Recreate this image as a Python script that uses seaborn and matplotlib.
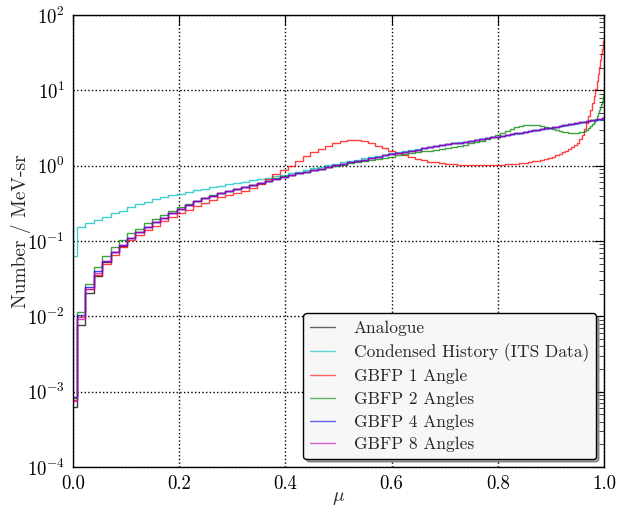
import numpy as np
import pandas as pd
import matplotlib
matplotlib.use("Agg")
import matplotlib.pyplot as plt
import seaborn as sns

# bin positions (mu = cosine of scattering angle)
mu = [0.0000, 0.0157, 0.0314, 0.0471, 0.0628, 0.0785, 0.0941, 0.1097, 0.1253, 0.1409,
      0.1564, 0.1719, 0.1874, 0.2028, 0.2181, 0.2334, 0.2487, 0.2639, 0.2790, 0.2940,
      0.3090, 0.3239, 0.3387, 0.3535, 0.3681, 0.3827, 0.3971, 0.4115, 0.4258, 0.4399,
      0.4540, 0.4679, 0.4818, 0.4955, 0.5090, 0.5225, 0.5358, 0.5490, 0.5621, 0.5750,
      0.5878, 0.6004, 0.6129, 0.6252, 0.6374, 0.6494, 0.6613, 0.6730, 0.6845, 0.6959,
      0.7071, 0.7181, 0.7290, 0.7396, 0.7501, 0.7604, 0.7705, 0.7804, 0.7902, 0.7997,
      0.8090, 0.8181, 0.8271, 0.8358, 0.8443, 0.8526, 0.8607, 0.8686, 0.8763, 0.8838,
      0.8910, 0.8980, 0.9048, 0.9114, 0.9178, 0.9239, 0.9298, 0.9354, 0.9409, 0.9461,
      0.9511, 0.9558, 0.9603, 0.9646, 0.9686, 0.9724, 0.9759, 0.9792, 0.9823, 0.9851,
      0.9877, 0.9900, 0.9921, 0.9940, 0.9956, 0.9969, 0.9980, 0.9989, 0.9995, 0.9999,
      1.0000]

# values, stored as log10(Number / MeV-sr)
analogue_log10 = [
    -3.20, -2.115, -1.695, -1.465, -1.28, -1.15, -1.06, -0.955, -0.88, -0.81,
    -0.75, -0.69, -0.63, -0.57, -0.52, -0.475, -0.435, -0.40, -0.368, -0.34,
    -0.313, -0.285, -0.257, -0.229, -0.201, -0.173, -0.146, -0.123, -0.101, -0.08,
    -0.059, -0.038, -0.017, 0.003, 0.023, 0.043, 0.062, 0.081, 0.10, 0.119,
    0.137, 0.155, 0.17, 0.185, 0.20, 0.214, 0.229, 0.243, 0.256, 0.27,
    0.283, 0.295, 0.307, 0.318, 0.33, 0.341, 0.352, 0.363, 0.374, 0.385,
    0.396, 0.407, 0.418, 0.428, 0.438, 0.448, 0.458, 0.467, 0.476, 0.485,
    0.494, 0.503, 0.511, 0.519, 0.527, 0.535, 0.542, 0.549, 0.556, 0.563,
    0.569, 0.575, 0.58, 0.586, 0.591, 0.595, 0.60, 0.604, 0.608, 0.611,
    0.615, 0.617, 0.62, 0.622, 0.624, 0.626, 0.627, 0.628, 0.629, 0.63,
    0.63]

condensed_log10 = [
    -1.20, -0.81, -0.757, -0.72, -0.677, -0.633, -0.597, -0.553, -0.51, -0.478,
    -0.447, -0.42, -0.395, -0.372, -0.35, -0.328, -0.307, -0.287, -0.267, -0.248,
    -0.23, -0.212, -0.194, -0.176, -0.159, -0.142, -0.12, -0.10, -0.078, -0.057,
    -0.036, -0.015, 0.005, 0.024, 0.042, 0.06, 0.078, 0.096, 0.113, 0.13,
    0.147, 0.163, 0.177, 0.191, 0.205, 0.219, 0.232, 0.246, 0.259, 0.272,
    0.285, 0.297, 0.309, 0.32, 0.331, 0.342, 0.352, 0.363, 0.374, 0.385,
    0.395, 0.405, 0.415, 0.425, 0.435, 0.445, 0.454, 0.463, 0.472, 0.481,
    0.49, 0.498, 0.506, 0.514, 0.522, 0.529, 0.536, 0.543, 0.55, 0.556,
    0.562, 0.568, 0.573, 0.578, 0.583, 0.587, 0.591, 0.595, 0.599, 0.602,
    0.605, 0.607, 0.609, 0.611, 0.613, 0.614, 0.615, 0.616, 0.617, 0.617,
    0.618]

gbfp1_log10 = [
    -3.11, -2.005, -1.64, -1.45, -1.30, -1.18, -1.08, -0.99, -0.92, -0.854,
    -0.80, -0.74, -0.685, -0.633, -0.585, -0.54, -0.495, -0.455, -0.42, -0.39,
    -0.36, -0.33, -0.295, -0.24, -0.175, -0.115, -0.057, 0.0, 0.066, 0.128,
    0.177, 0.221, 0.265, 0.302, 0.328, 0.342, 0.345, 0.33, 0.30, 0.265,
    0.228, 0.19, 0.162, 0.135, 0.11, 0.09, 0.072, 0.055, 0.042, 0.032,
    0.024, 0.018, 0.013, 0.01, 0.008, 0.007, 0.007, 0.008, 0.01, 0.012,
    0.015, 0.018, 0.022, 0.027, 0.033, 0.04, 0.048, 0.057, 0.067, 0.078,
    0.09, 0.104, 0.12, 0.137, 0.155, 0.175, 0.197, 0.222, 0.25, 0.27,
    0.30, 0.35, 0.41, 0.48, 0.56, 0.66, 0.74, 0.83, 0.92, 1.02,
    1.12, 1.22, 1.31, 1.40, 1.48, 1.55, 1.61, 1.66, 1.69, 1.71,
    1.72]

gbfp2_log10 = [
    -3.08, -1.947, -1.57, -1.35, -1.20, -1.075, -0.987, -0.90, -0.835, -0.765,
    -0.71, -0.655, -0.605, -0.555, -0.51, -0.468, -0.43, -0.395, -0.363, -0.335,
    -0.308, -0.282, -0.254, -0.226, -0.198, -0.17, -0.143, -0.12, -0.099, -0.079,
    -0.059, -0.039, -0.02, -0.002, 0.015, 0.031, 0.047, 0.062, 0.077, 0.092,
    0.107, 0.121, 0.135, 0.149, 0.162, 0.175, 0.188, 0.201, 0.214, 0.227,
    0.24, 0.253, 0.266, 0.28, 0.295, 0.312, 0.332, 0.355, 0.38, 0.407,
    0.433, 0.46, 0.485, 0.507, 0.525, 0.538, 0.545, 0.546, 0.54, 0.528,
    0.512, 0.496, 0.481, 0.468, 0.458, 0.45, 0.444, 0.44, 0.437, 0.436,
    0.437, 0.441, 0.449, 0.461, 0.477, 0.497, 0.521, 0.55, 0.583, 0.62,
    0.66, 0.70, 0.74, 0.78, 0.82, 0.86, 0.90, 0.94, 0.97, 1.00,
    1.02]

gbfp4_log10 = [
    -3.07, -1.98, -1.615, -1.40, -1.265, -1.14, -1.05, -0.955, -0.88, -0.81,
    -0.75, -0.69, -0.63, -0.57, -0.52, -0.475, -0.435, -0.40, -0.368, -0.34,
    -0.313, -0.285, -0.257, -0.229, -0.201, -0.173, -0.146, -0.123, -0.101, -0.08,
    -0.059, -0.038, -0.017, 0.003, 0.023, 0.043, 0.062, 0.081, 0.10, 0.119,
    0.137, 0.155, 0.17, 0.185, 0.20, 0.214, 0.229, 0.243, 0.256, 0.27,
    0.283, 0.295, 0.307, 0.318, 0.33, 0.341, 0.352, 0.363, 0.374, 0.385,
    0.396, 0.407, 0.418, 0.428, 0.438, 0.448, 0.458, 0.467, 0.476, 0.485,
    0.494, 0.503, 0.511, 0.519, 0.527, 0.535, 0.542, 0.549, 0.556, 0.563,
    0.569, 0.575, 0.58, 0.586, 0.591, 0.595, 0.60, 0.604, 0.608, 0.611,
    0.615, 0.617, 0.62, 0.622, 0.624, 0.626, 0.627, 0.628, 0.629, 0.63,
    0.63]

gbfp8_log10 = [
    -3.13, -2.03, -1.64, -1.43, -1.27, -1.145, -1.055, -0.955, -0.88, -0.81,
    -0.75, -0.69, -0.63, -0.57, -0.52, -0.475, -0.435, -0.40, -0.368, -0.34,
    -0.313, -0.285, -0.257, -0.229, -0.201, -0.173, -0.146, -0.123, -0.101, -0.08,
    -0.059, -0.038, -0.017, 0.003, 0.023, 0.043, 0.062, 0.081, 0.10, 0.119,
    0.137, 0.155, 0.17, 0.185, 0.20, 0.214, 0.229, 0.243, 0.256, 0.27,
    0.283, 0.295, 0.307, 0.318, 0.33, 0.341, 0.352, 0.363, 0.374, 0.385,
    0.396, 0.407, 0.418, 0.428, 0.438, 0.448, 0.458, 0.467, 0.476, 0.485,
    0.494, 0.503, 0.511, 0.519, 0.527, 0.535, 0.542, 0.549, 0.556, 0.563,
    0.569, 0.575, 0.58, 0.586, 0.591, 0.595, 0.60, 0.604, 0.608, 0.611,
    0.615, 0.617, 0.62, 0.622, 0.624, 0.626, 0.627, 0.628, 0.629, 0.63,
    0.63]

series_names = ["Analogue", "Condensed History (ITS Data)", "GBFP 1 Angle",
                "GBFP 2 Angles", "GBFP 4 Angles", "GBFP 8 Angles"]
series_log10 = [analogue_log10, condensed_log10, gbfp1_log10,
                gbfp2_log10, gbfp4_log10, gbfp8_log10]
colors = ["#000000", "#00bfbf", "#ff0000", "#008000", "#0000ff", "#bf00bf"]

frames = []
for name, vals in zip(series_names, series_log10):
    frames.append(pd.DataFrame({"mu": mu, "value": 10.0 ** np.array(vals),
                                "series": name}))
df = pd.concat(frames, ignore_index=True)

sns.set_style("white")
plt.rcParams.update({
    "font.family": "serif",
    "font.serif": ["cmr10", "DejaVu Serif"],
    "mathtext.fontset": "cm",
    "axes.formatter.use_mathtext": True,
    "axes.unicode_minus": False,
    "xtick.direction": "in",
    "ytick.direction": "in",
    "xtick.top": True,
    "ytick.right": True,
    "xtick.major.size": 7,
    "ytick.major.size": 7,
    "xtick.minor.size": 3.5,
    "ytick.minor.size": 3.5,
    "axes.edgecolor": "black",
    "axes.linewidth": 1.0,
})

fig = plt.figure(figsize=(6.26, 5.13), dpi=100)
ax = fig.add_axes([0.1166, 0.0897, 0.8482, 0.8811])

sns.lineplot(data=df, x="mu", y="value", hue="series", hue_order=series_names,
             palette=colors, drawstyle="steps-mid", estimator=None, sort=False,
             linewidth=1.0, alpha=0.75, ax=ax, legend=True)

ax.set_yscale("log")
ax.set_xlim(0, 1)
ax.set_ylim(1e-4, 1e2)
ax.set_xticks([0.0, 0.2, 0.4, 0.6, 0.8, 1.0])
ax.set_xticklabels(["0.0", "0.2", "0.4", "0.6", "0.8", "1.0"])
ax.tick_params(axis="both", which="major", labelsize=13.5, pad=6, colors="black")
ax.tick_params(axis="both", which="both", direction="in", top=True, right=True)
ax.yaxis.set_minor_locator(matplotlib.ticker.LogLocator(base=10, subs=np.arange(2, 10)))
ax.grid(True, which="major", linestyle=":", color="black", linewidth=1.0)
ax.set_xlabel(r"$\mu$", fontsize=14)
ax.set_ylabel("Number / MeV-sr", fontsize=14)
ax.yaxis.set_label_coords(-0.079, 0.522)
ax.xaxis.set_label_coords(0.5, -0.048)

handles, labels = ax.get_legend_handles_labels()
for h in handles:
    h.set_alpha(0.6)
leg = ax.legend(handles, labels, loc="lower right", fontsize=12.5,
                fancybox=True, shadow=True, frameon=True,
                borderaxespad=0.45, handlelength=1.4, handletextpad=1.1,
                labelspacing=0.42)
leg.get_frame().set_facecolor("#f7f7f7")
leg.get_frame().set_edgecolor("black")
for spine in ax.spines.values():
    spine.set_visible(True)
    spine.set_color("black")

fig.savefig("out.png", dpi=100)
